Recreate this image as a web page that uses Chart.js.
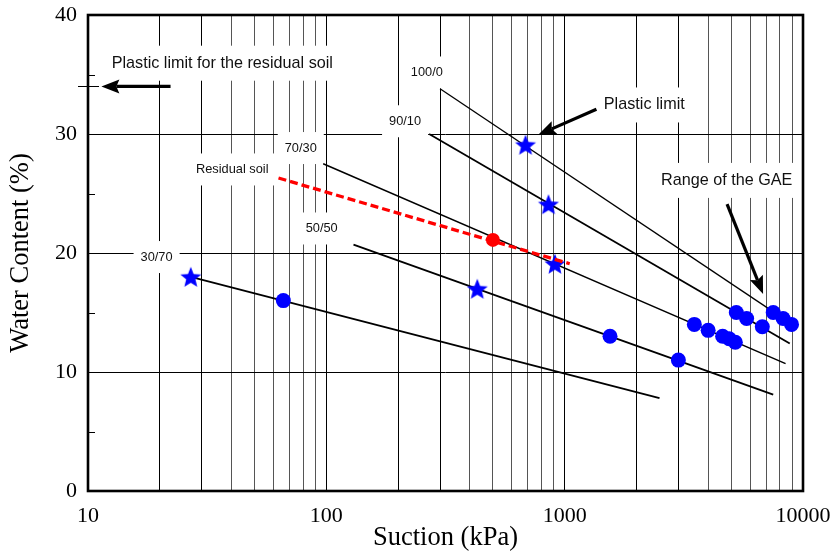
<!DOCTYPE html>
<html>
<head>
<meta charset="utf-8">
<script src="https://cdn.jsdelivr.net/npm/chart.js@4/dist/chart.umd.min.js"></script>
<style>
  html, body { margin: 0; padding: 0; background: #ffffff; }
  #wrap { width: 836px; height: 554px; }
</style>
</head>
<body>
<div id="wrap"><canvas id="chart" width="836" height="554"></canvas></div>
<script>
// Fitted water content vs. suction lines for each mix (end points, kPa / %)
const mix100_0Suction = [300, 9000];
const mix100_0Water = [33.8, 14.0];
const mix90_10Suction = [270, 8800];
const mix90_10Water = [30.0, 12.4];
const mix70_30Suction = [97, 8450];
const mix70_30Water = [27.5, 10.7];
const mix50_50Suction = [130, 7500];
const mix50_50Water = [20.7, 8.1];
const mix30_70Suction = [27, 2500];
const mix30_70Water = [18.0, 7.8];

// Residual soil trend and its measured point
const residualSuction = [63, 1050];
const residualWater = [26.3, 19.1];
const residualPointSuction = [500];
const residualPointWater = [21.1];

// Plastic limit of each mix (stars)
const plasticLimitSuction = [27, 430, 910, 855, 685];
const plasticLimitWater = [18.0, 17.0, 19.1, 24.1, 29.1];

// Measured suction / water content points (blue dots)
const measuredSuction = [66, 1550, 3000, 3500, 4000, 4600, 4900, 5200, 5250, 5800, 6750, 7500, 8250, 8950];
const measuredWater = [16.0, 13.0, 11.0, 14.0, 13.5, 13.0, 12.8, 12.5, 15.0, 14.5, 13.8, 15.0, 14.5, 14.0];

// Plastic limit of the residual soil (%)
const residualPlasticLimit = 34;

// Axis ticks
const suctionTickLabels = [10, 100, 1000, 10000];
const waterTickLabels = [0, 10, 20, 30, 40];
const waterMinorTicks = [5, 15, 25, 35];

// Text annotations, anchored in data units (centre of text)
const lineLabels = [
  { text: '100/0', x: 264, y: 35.17 },
  { text: '90/10', x: 214, y: 31.07 },
  { text: '70/30', x: 78.1, y: 28.82 },
  { text: 'Residual soil', x: 40.3, y: 27.02 },
  { text: '50/50', x: 95.6, y: 22.06 },
  { text: '30/70', x: 19.4, y: 19.66 }
];
const noteLabels = [
  { text: 'Plastic limit for the residual soil', x: 36.6, y: 35.95 },
  { text: 'Plastic limit', x: 2158, y: 32.44 },
  { text: 'Range of the GAE', x: 4786, y: 26.1 }
];
// Arrows: from (x1, y1) to the tip (x2, y2), data units
const noteArrows = [
  { x1: 22.2, y1: residualPlasticLimit, x2: 11.38, y2: residualPlasticLimit },
  { x1: 1359, y1: 32.08, x2: 773, y2: 29.92 },
  { x1: 4802, y1: 24.1, x2: 6800, y2: 16.55 }
];

const pts = (xs, ys) => xs.map((x, i) => ({ x: x, y: ys[i] }));

function makeStar(r, color) {
  const size = Math.ceil(r * 2 + 2);
  const c = document.createElement('canvas');
  c.width = size; c.height = size;
  const g = c.getContext('2d');
  const cx = size / 2, cy = size / 2 + r * 0.095;
  g.beginPath();
  for (let i = 0; i < 10; i++) {
    const rad = i % 2 === 0 ? r : r * 0.44;
    const a = -Math.PI / 2 + i * Math.PI / 5;
    g.lineTo(cx + rad * Math.cos(a), cy + rad * Math.sin(a));
  }
  g.closePath();
  g.fillStyle = color;
  g.fill();
  return c;
}
const blueStar = makeStar(11, '#0000ff');

const SANS = '"Liberation Sans", Arial, Helvetica, sans-serif';
const SERIF = '"Liberation Serif", "Times New Roman", Times, serif';

function drawArrow(ctx, x1, y1, x2, y2, headLen, headHalf, width) {
  const ang = Math.atan2(y2 - y1, x2 - x1);
  const c = Math.cos(ang), s = Math.sin(ang);
  const bx = x2 - headLen * c, by = y2 - headLen * s;
  ctx.lineWidth = width;
  ctx.lineCap = 'butt';
  ctx.beginPath();
  ctx.moveTo(x1, y1);
  ctx.lineTo(bx + 3 * c, by + 3 * s);
  ctx.stroke();
  ctx.beginPath();
  ctx.moveTo(x2, y2);
  ctx.lineTo(bx + headHalf * s, by - headHalf * c);
  ctx.lineTo(bx + 3 * c, by + 3 * s);
  ctx.lineTo(bx - headHalf * s, by + headHalf * c);
  ctx.closePath();
  ctx.fill();
}

const overlay = {
  id: 'overlay',
  beforeDatasetsDraw(chart) {
    const { ctx, scales: { x, y }, chartArea: area } = chart;
    ctx.save();
    // short inward minor ticks on the water content axis
    ctx.strokeStyle = '#000';
    ctx.lineWidth = 1;
    waterMinorTicks.forEach(v => {
      const py = Math.round(y.getPixelForValue(v)) + 0.5;
      ctx.beginPath();
      ctx.moveTo(area.left, py);
      ctx.lineTo(area.left + 7, py);
      ctx.stroke();
    });
    // labels sitting on white boxes over the grid
    const boxed = (list, size, boxH) => {
      ctx.font = size + 'px ' + SANS;
      ctx.textAlign = 'center';
      ctx.textBaseline = 'middle';
      list.forEach(l => {
        const px = x.getPixelForValue(l.x);
        const py = y.getPixelForValue(l.y);
        const w = ctx.measureText(l.text).width + 14;
        ctx.fillStyle = '#ffffff';
        ctx.fillRect(px - w / 2, py - boxH / 2, w, boxH);
        ctx.fillStyle = '#111';
        ctx.fillText(l.text, px, py);
      });
    };
    boxed(lineLabels, 12.8, 32);
    boxed(noteLabels, 16.2, 35);
    ctx.restore();
  },
  afterDatasetsDraw(chart) {
    const { ctx, scales: { x, y }, chartArea: area } = chart;
    ctx.save();
    ctx.strokeStyle = '#000';
    ctx.fillStyle = '#000';
    noteArrows.forEach(a => {
      drawArrow(ctx, x.getPixelForValue(a.x1), y.getPixelForValue(a.y1),
        x.getPixelForValue(a.x2), y.getPixelForValue(a.y2), 18, 7, 3.2);
    });
    // mark of the residual soil plastic limit across the axis
    const py = Math.round(y.getPixelForValue(residualPlasticLimit)) + 0.5;
    ctx.lineWidth = 1;
    ctx.beginPath();
    ctx.moveTo(area.left - 10, py);
    ctx.lineTo(area.left + 11, py);
    ctx.stroke();
    // plot frame
    ctx.lineWidth = 2.6;
    ctx.strokeRect(area.left, area.top, area.right - area.left, area.bottom - area.top);
    ctx.restore();
  }
};

const fitLine = (xs, ys, width) => ({
  data: pts(xs, ys),
  showLine: true,
  borderColor: '#000',
  borderWidth: width,
  pointRadius: 0,
  fill: false,
  order: 4
});

// keep the plot area fixed: no extra room for overhanging tick labels
const noOverhang = (scale) => {
  scale.paddingLeft = 0;
  scale.paddingRight = 0;
  scale.paddingTop = 0;
  scale.paddingBottom = 0;
};

new Chart(document.getElementById('chart'), {
  type: 'scatter',
  data: {
    datasets: [
      {
        label: 'Residual soil point',
        data: pts(residualPointSuction, residualPointWater),
        pointStyle: 'circle',
        pointRadius: 7,
        backgroundColor: '#ff0000',
        borderColor: '#ff0000',
        borderWidth: 0,
        order: 0
      },
      {
        label: 'Residual soil',
        data: pts(residualSuction, residualWater),
        showLine: true,
        borderColor: '#ff0000',
        borderWidth: 3.3,
        borderDash: [8, 4],
        borderCapStyle: 'butt',
        pointRadius: 0,
        order: 1
      },
      {
        label: 'Plastic limit',
        data: pts(plasticLimitSuction, plasticLimitWater),
        pointStyle: blueStar,
        pointRadius: 11,
        order: 2
      },
      {
        label: 'Measured',
        data: pts(measuredSuction, measuredWater),
        pointStyle: 'circle',
        pointRadius: 7.5,
        backgroundColor: '#0000ff',
        borderColor: '#0000ff',
        borderWidth: 0,
        order: 3
      },
      Object.assign(fitLine(mix100_0Suction, mix100_0Water, 1.3), { label: '100/0' }),
      Object.assign(fitLine(mix90_10Suction, mix90_10Water, 1.8), { label: '90/10' }),
      Object.assign(fitLine(mix70_30Suction, mix70_30Water, 1.5), { label: '70/30' }),
      Object.assign(fitLine(mix50_50Suction, mix50_50Water, 1.8), { label: '50/50' }),
      Object.assign(fitLine(mix30_70Suction, mix30_70Water, 1.8), { label: '30/70' })
    ]
  },
  options: {
    responsive: false,
    animation: false,
    events: [],
    layout: { padding: { left: 0, top: 15, right: 33, bottom: 0 } },
    plugins: {
      legend: { display: false },
      tooltip: { enabled: false }
    },
    scales: {
      x: {
        type: 'logarithmic',
        min: 10,
        max: 10000,
        afterBuildTicks(scale) {
          const ticks = [];
          for (let e = 1; e < 4; e++) {
            for (let m = 1; m < 10; m++) ticks.push({ value: m * Math.pow(10, e) });
          }
          ticks.push({ value: 10000 });
          scale.ticks = ticks;
        },
        afterFit(scale) { scale.height = 63; noOverhang(scale); },
        ticks: {
          autoSkip: false,
          maxRotation: 0,
          padding: 12,
          color: '#000',
          font: { family: SERIF, size: 22 },
          callback: (v) => suctionTickLabels.includes(v) ? String(v) : ''
        },
        grid: {
          drawTicks: false,
          lineWidth: 1,
          color: (c) => {
            const v = c.tick ? c.tick.value : 10;
            const m = Math.round(v / Math.pow(10, Math.floor(Math.log10(v) + 1e-9)));
            return m <= 3 ? '#000' : '#555';
          }
        },
        border: { display: false },
        title: {
          display: true,
          text: 'Suction (kPa)',
          color: '#000',
          font: { family: SERIF, size: 26.5 },
          padding: { top: 0, bottom: 0 }
        }
      },
      y: {
        type: 'linear',
        min: 0,
        max: 40,
        afterBuildTicks(scale) {
          scale.ticks = waterTickLabels.map(v => ({ value: v }));
        },
        afterFit(scale) { scale.width = 88; noOverhang(scale); },
        ticks: {
          padding: 11,
          color: '#000',
          font: { family: SERIF, size: 22 },
          callback: (v) => String(v)
        },
        grid: { drawTicks: false, lineWidth: 1, color: '#000' },
        border: { display: false },
        title: {
          display: true,
          text: 'Water Content (%)',
          color: '#000',
          font: { family: SERIF, size: 26.5 },
          padding: { top: 5, bottom: 0 }
        }
      }
    }
  },
  plugins: [overlay]
});
</script>
</body>
</html>
